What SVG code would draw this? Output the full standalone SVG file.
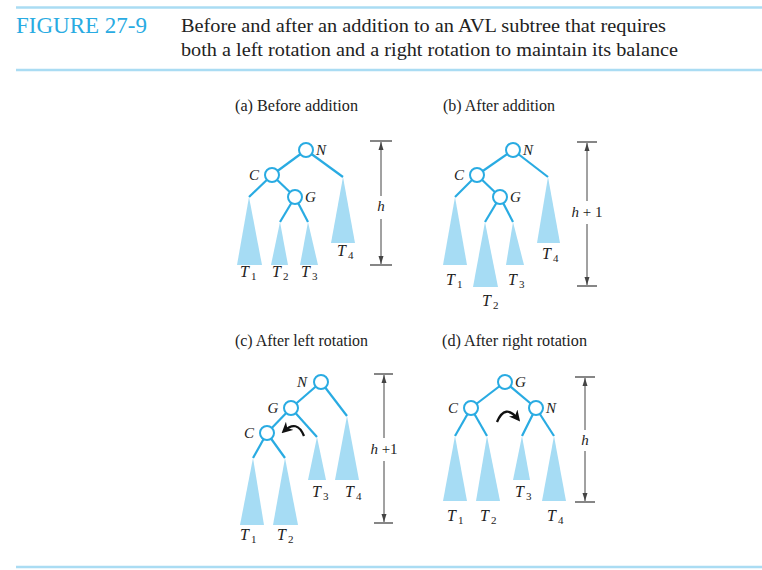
<svg xmlns="http://www.w3.org/2000/svg" width="762" height="570" viewBox="0 0 762 570">
<style>
.rule{stroke:#aadcf3;stroke-width:2.5;fill:none}
.fig{font-family:"Liberation Serif",serif;font-size:23px;fill:#29abe2}
.cap{font-family:"Liberation Serif",serif;font-size:19.5px;fill:#222}
.sub{font-family:"Liberation Serif",serif;font-size:16px;fill:#222}
.edge{stroke:#29abe2;stroke-width:2.2;fill:none}
.node{fill:#fff;stroke:#29abe2;stroke-width:2}
.tri{fill:#a6dcf4;stroke:none}
.lab{font-family:"Liberation Serif",serif;font-size:15px;font-style:italic;fill:#222}
.tl{font-family:"Liberation Serif",serif;font-size:16px;font-style:italic;fill:#222}
.ts{font-size:11px;font-style:normal}
.dim{stroke:#444;stroke-width:1;fill:none}
.bar{stroke:#444;stroke-width:1.3}
.rot{stroke:#111;stroke-width:2.3;fill:none}
.hl{font-family:"Liberation Serif",serif;font-size:15px;fill:#222;text-anchor:middle}
</style>
<defs>
<marker id="da" viewBox="0 0 8 8" refX="8" refY="4" markerWidth="8" markerHeight="8" markerUnits="userSpaceOnUse" orient="auto"><path d="M0,1.5 L8,4 L0,6.5 Z" fill="#444"/></marker>
<marker id="ra" viewBox="0 0 10 10" refX="7" refY="5" markerWidth="11" markerHeight="11" markerUnits="userSpaceOnUse" orient="auto"><path d="M0,0 L10,5 L0,10 L3,5 Z" fill="#111"/></marker>
</defs>

<g id="header">
<line class="rule" x1="16" y1="7.5" x2="762" y2="7.5"/>
<text class="fig" x="16" y="33">FIGURE 27-9</text>
<text class="cap" x="181" y="32" textLength="485" lengthAdjust="spacingAndGlyphs">Before and after an addition to an AVL subtree that requires</text>
<text class="cap" x="181" y="56" textLength="497" lengthAdjust="spacingAndGlyphs">both a left rotation and a right rotation to maintain its balance</text>
<line class="rule" x1="16" y1="70" x2="762" y2="70"/>
<line class="rule" x1="16" y1="567" x2="762" y2="567"/>
</g>

<g id="titles">
<text class="sub" x="235" y="111" textLength="123" lengthAdjust="spacingAndGlyphs">(a) Before addition</text>
<text class="sub" x="443" y="111" textLength="112" lengthAdjust="spacingAndGlyphs">(b) After addition</text>
<text class="sub" x="235" y="346" textLength="133" lengthAdjust="spacingAndGlyphs">(c) After left rotation</text>
<text class="sub" x="442" y="346" textLength="145" lengthAdjust="spacingAndGlyphs">(d) After right rotation</text>
</g>

<g id="connectors">
<!-- a -->
<line class="edge" x1="306" y1="150" x2="272" y2="175"/>
<line class="edge" x1="306" y1="150" x2="343" y2="177"/>
<line class="edge" x1="272" y1="175" x2="249" y2="197"/>
<line class="edge" x1="272" y1="175" x2="295" y2="197"/>
<line class="edge" x1="295" y1="197" x2="280" y2="222"/>
<line class="edge" x1="295" y1="197" x2="308" y2="222"/>
<!-- b -->
<line class="edge" x1="513" y1="150" x2="477" y2="175"/>
<line class="edge" x1="513" y1="150" x2="548" y2="177"/>
<line class="edge" x1="477" y1="175" x2="455" y2="197"/>
<line class="edge" x1="477" y1="175" x2="500" y2="197"/>
<line class="edge" x1="500" y1="197" x2="485" y2="222"/>
<line class="edge" x1="500" y1="197" x2="513" y2="222"/>
<!-- c -->
<line class="edge" x1="321" y1="382" x2="291" y2="408"/>
<line class="edge" x1="321" y1="382" x2="347" y2="416"/>
<line class="edge" x1="291" y1="408" x2="267" y2="433"/>
<line class="edge" x1="291" y1="408" x2="317" y2="437"/>
<line class="edge" x1="267" y1="433" x2="253" y2="458"/>
<line class="edge" x1="267" y1="433" x2="285" y2="458"/>
<!-- d -->
<line class="edge" x1="505" y1="382" x2="471" y2="408"/>
<line class="edge" x1="505" y1="382" x2="536" y2="408"/>
<line class="edge" x1="471" y1="408" x2="455" y2="436"/>
<line class="edge" x1="471" y1="408" x2="487" y2="436"/>
<line class="edge" x1="536" y1="408" x2="522" y2="436"/>
<line class="edge" x1="536" y1="408" x2="554" y2="436"/>
<!-- rotation arrows -->
<path class="rot" d="M304,436 Q297,419 284,431" marker-end="url(#ra)"/>
<path class="rot" d="M497,422 Q505,403 518,419" marker-end="url(#ra)"/>
</g>

<g id="subtrees">
<polygon class="tri" points="249,197 237,265 262,265"/>
<polygon class="tri" points="280,222 271,265 288,265"/>
<polygon class="tri" points="308,222 300,265 318,265"/>
<polygon class="tri" points="343,177 331,243 355,243"/>
<polygon class="tri" points="455,197 443,265 467,265"/>
<polygon class="tri" points="485,222 473,287 498,287"/>
<polygon class="tri" points="513,222 506,265 524,265"/>
<polygon class="tri" points="548,177 537,243 560,243"/>
<polygon class="tri" points="347,416 335,480 359,480"/>
<polygon class="tri" points="317,437 308,480 326,480"/>
<polygon class="tri" points="253,458 240,525 264,525"/>
<polygon class="tri" points="285,458 273,525 298,525"/>
<polygon class="tri" points="455,436 443,501 467,501"/>
<polygon class="tri" points="487,436 476,501 500,501"/>
<polygon class="tri" points="522,436 513,480 530,480"/>
<polygon class="tri" points="554,436 542,501 566,501"/>
</g>

<g id="a-N"><circle class="node" cx="306" cy="150" r="7"/><text class="lab" x="316" y="155">N</text></g>
<g id="a-C"><circle class="node" cx="272" cy="175" r="7"/><text class="lab" x="254" y="180" text-anchor="middle">C</text></g>
<g id="a-G"><circle class="node" cx="295" cy="197" r="7"/><text class="lab" x="305" y="202">G</text></g>
<g id="b-N"><circle class="node" cx="513" cy="150" r="7"/><text class="lab" x="523" y="155">N</text></g>
<g id="b-C"><circle class="node" cx="477" cy="175" r="7"/><text class="lab" x="459" y="180" text-anchor="middle">C</text></g>
<g id="b-G"><circle class="node" cx="500" cy="197" r="7"/><text class="lab" x="510" y="202">G</text></g>
<g id="c-N"><circle class="node" cx="321" cy="382" r="7"/><text class="lab" x="302" y="387" text-anchor="middle">N</text></g>
<g id="c-G"><circle class="node" cx="291" cy="408" r="7"/><text class="lab" x="273" y="413" text-anchor="middle">G</text></g>
<g id="c-C"><circle class="node" cx="267" cy="433" r="7"/><text class="lab" x="249" y="438" text-anchor="middle">C</text></g>
<g id="d-G"><circle class="node" cx="505" cy="382" r="7"/><text class="lab" x="515" y="387">G</text></g>
<g id="d-C"><circle class="node" cx="471" cy="408" r="7"/><text class="lab" x="453" y="413" text-anchor="middle">C</text></g>
<g id="d-N"><circle class="node" cx="536" cy="408" r="7"/><text class="lab" x="546" y="413">N</text></g>

<g id="tlabels">
<text class="tl" x="240" y="277">T<tspan class="ts" dx="2" dy="3">1</tspan></text>
<text class="tl" x="272" y="277">T<tspan class="ts" dx="2" dy="3">2</tspan></text>
<text class="tl" x="301" y="277">T<tspan class="ts" dx="2" dy="3">3</tspan></text>
<text class="tl" x="337" y="256">T<tspan class="ts" dx="2" dy="3">4</tspan></text>
<text class="tl" x="446" y="285">T<tspan class="ts" dx="2" dy="3">1</tspan></text>
<text class="tl" x="482" y="306">T<tspan class="ts" dx="2" dy="3">2</tspan></text>
<text class="tl" x="508" y="285">T<tspan class="ts" dx="2" dy="3">3</tspan></text>
<text class="tl" x="542" y="259">T<tspan class="ts" dx="2" dy="3">4</tspan></text>
<text class="tl" x="312" y="497">T<tspan class="ts" dx="2" dy="3">3</tspan></text>
<text class="tl" x="345" y="497">T<tspan class="ts" dx="2" dy="3">4</tspan></text>
<text class="tl" x="240" y="540">T<tspan class="ts" dx="2" dy="3">1</tspan></text>
<text class="tl" x="277" y="540">T<tspan class="ts" dx="2" dy="3">2</tspan></text>
<text class="tl" x="447" y="521">T<tspan class="ts" dx="2" dy="3">1</tspan></text>
<text class="tl" x="480" y="521">T<tspan class="ts" dx="2" dy="3">2</tspan></text>
<text class="tl" x="515" y="497">T<tspan class="ts" dx="2" dy="3">3</tspan></text>
<text class="tl" x="547" y="521">T<tspan class="ts" dx="2" dy="3">4</tspan></text>
</g>

<g id="heights">
<line class="bar" x1="370" y1="141" x2="392" y2="141"/>
<line class="bar" x1="370" y1="265" x2="392" y2="265"/>
<line class="dim" x1="381" y1="196" x2="381" y2="142" marker-end="url(#da)"/>
<line class="dim" x1="381" y1="219" x2="381" y2="264" marker-end="url(#da)"/>
<text class="hl" x="381" y="211" font-style="italic">h</text>

<line class="bar" x1="577" y1="142" x2="597" y2="142"/>
<line class="bar" x1="577" y1="286" x2="597" y2="286"/>
<line class="dim" x1="587" y1="201" x2="587" y2="143" marker-end="url(#da)"/>
<line class="dim" x1="587" y1="224" x2="587" y2="285" marker-end="url(#da)"/>
<text class="hl" x="587" y="217"><tspan font-style="italic">h</tspan> + 1</text>

<line class="bar" x1="374" y1="374" x2="393" y2="374"/>
<line class="bar" x1="374" y1="523" x2="393" y2="523"/>
<line class="dim" x1="384" y1="438" x2="384" y2="375" marker-end="url(#da)"/>
<line class="dim" x1="384" y1="461" x2="384" y2="522" marker-end="url(#da)"/>
<text class="hl" x="384" y="454"><tspan font-style="italic">h</tspan> +1</text>

<line class="bar" x1="575" y1="377" x2="595" y2="377"/>
<line class="bar" x1="575" y1="502" x2="595" y2="502"/>
<line class="dim" x1="585" y1="430" x2="585" y2="378" marker-end="url(#da)"/>
<line class="dim" x1="585" y1="451" x2="585" y2="501" marker-end="url(#da)"/>
<text class="hl" x="585" y="445" font-style="italic">h</text>
</g>
</svg>
